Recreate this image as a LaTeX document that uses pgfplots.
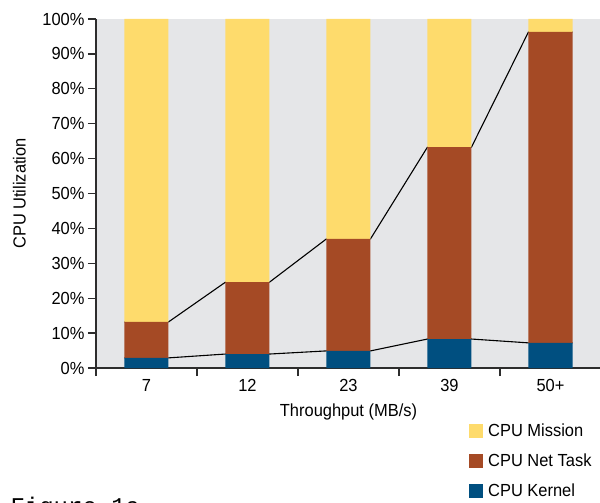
\documentclass[border=0pt]{standalone}
\usepackage{fontspec}
\setmainfont{Liberation Sans}[FakeStretch=0.94]
\setmonofont{Liberation Mono}
\usepackage{pgfplots}
\pgfplotsset{compat=1.18}
\definecolor{cmission}{RGB}{254,219,108}
\definecolor{cnet}{RGB}{165,74,37}
\definecolor{ckernel}{RGB}{0,79,128}
\definecolor{bggray}{RGB}{229,230,232}
\definecolor{axgray}{RGB}{45,45,45}

\pgfplotstableread{
x kernel net mission
0 2.9 10.3 86.8
1 4.0 20.6 75.4
2 4.9 32.1 63.0
3 8.3 55.0 36.7
4 7.2 89.1 3.7
}\datatable

\begin{document}
\begin{tikzpicture}[font=\fontsize{17.5bp}{20bp}\selectfont]
\pgfplotsset{common/.style={scale only axis, width=505bp, height=349bp,
  xmin=-0.5, xmax=4.5, ymin=0, ymax=100, at={(0,0)}, anchor=south west}}
\begin{axis}[common, axis background/.style={fill=bggray},
  axis line style={draw=none}, xtick=\empty, ytick=\empty]
\addplot[black, line width=1.1bp] coordinates {(-0.218,2.9)(0.218,2.9)(0.782,4.0)(1.218,4.0)(1.782,4.9)(2.218,4.9)(2.782,8.3)(3.218,8.3)(3.782,7.2)(4.218,7.2)};
\addplot[black, line width=1.1bp] coordinates {(-0.218,13.2)(0.218,13.2)(0.782,24.6)(1.218,24.6)(1.782,37.0)(2.218,37.0)(2.782,63.3)(3.218,63.3)(3.782,96.3)(4.218,96.3)};
\end{axis}
\begin{axis}[common, ybar stacked, bar width=44bp,
  axis x line*=bottom, axis y line*=left,
  axis line style={axgray, line width=1.3bp, -},
  tick align=outside,
  xtick={0,...,4}, xticklabels={7,12,23,39,50+},
  minor xtick={-0.5,0.5,...,4.5},
  major x tick style={draw=none},
  tick style={axgray, line width=1.3bp},
  major tick length=8bp, minor tick length=8bp,
  ytick={0,10,...,100},
  yticklabel={\pgfmathprintnumber{\tick}\%},
  /pgf/number format/assume math mode=true,
  ylabel={CPU Utilization},
  xlabel={Throughput (MB/s)},
  ylabel style={at={(axis description cs:-0.1515,0.5)}, anchor=center},
  xlabel style={at={(axis description cs:0.5,-0.126)}, anchor=center},
  legend style={draw=none, fill=none, at={(0.7386,-0.1547)}, anchor=north west,
    inner sep=0pt, row sep=11.5bp, column sep=3bp},
  legend cell align=left,
  reverse legend,
  legend image code/.code={\fill[#1] (0bp,-7bp) rectangle (14bp,7bp);},
]
\addplot[fill=ckernel, draw=none] table[x=x, y=kernel] {\datatable};
\addplot[fill=cnet, draw=none] table[x=x, y=net] {\datatable};
\addplot[fill=cmission, draw=none] table[x=x, y=mission] {\datatable};
\legend{CPU Kernel, CPU Net Task, CPU Mission}
\end{axis}
\node[anchor=base west, font=\fontsize{24bp}{24bp}\ttfamily] at (-89bp,-146bp) {Figure 1a};
\pgfresetboundingbox
\useasboundingbox (-96bp,-135bp) rectangle (504bp,368bp);
\end{tikzpicture}
\end{document}
